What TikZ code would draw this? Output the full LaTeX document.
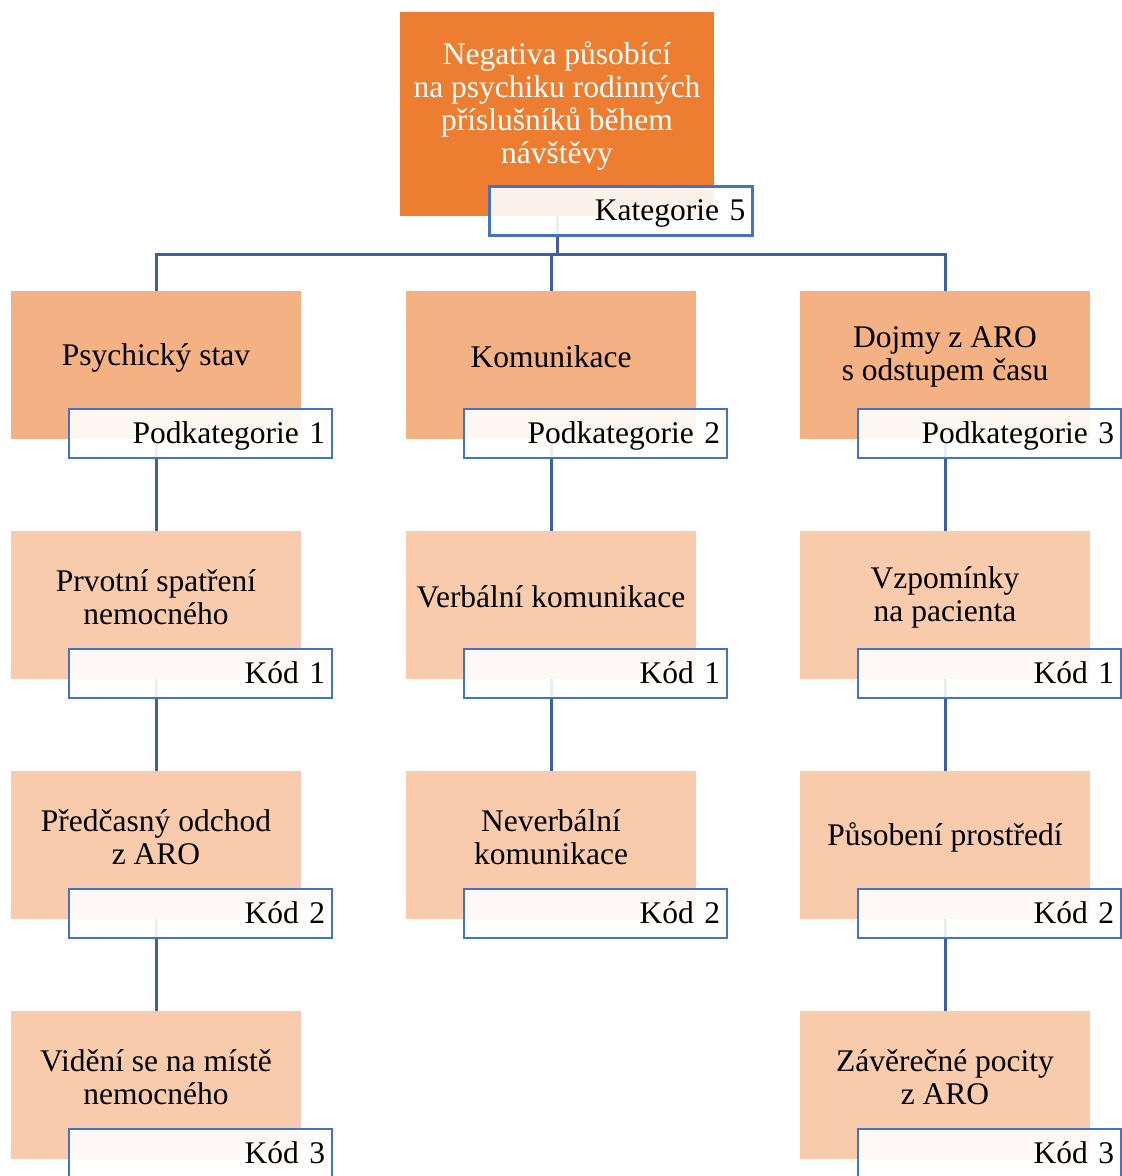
\documentclass[tikz,border=0pt]{standalone}
\usepackage{fontspec}
\setmainfont{Liberation Serif}
\newfontfamily\tnrfont{Liberation Serif}
\usetikzlibrary{calc}
\definecolor{topor}{HTML}{ED7D31}
\definecolor{midor}{HTML}{F4B183}
\definecolor{lightor}{HTML}{F8CBAD}
\definecolor{tagblue}{HTML}{4472C4}
\definecolor{treeblue}{RGB}{61,96,160}
\tikzset{
  boxbase/.style={inner sep=0pt, draw=none, align=center, text=black},
  topbox/.style={boxbase, fill=topor, minimum width=314pt, minimum height=204pt},
  lvlone/.style={boxbase, fill=midor, minimum width=290pt, minimum height=148pt},
  lvlrest/.style={boxbase, fill=lightor, minimum width=290pt, minimum height=148pt},
  tag/.style={draw=tagblue, line width=2.5pt, fill=white, fill opacity=0.9, text opacity=1,
    minimum width=263pt, minimum height=49pt, inner xsep=7pt, inner ysep=0pt,
    text width=249pt, align=right, anchor=north west, text height=26pt, text depth=7pt,
    font=\tnrfont\fontsize{31.5}{33}\selectfont},
  tree/.style={draw=treeblue, line width=3pt},
  boxtext/.style={align=center, inner sep=0pt, font=\tnrfont\fontsize{31.5}{33}\selectfont}
}
\begin{document}
\begin{tikzpicture}[x=1pt,y=-1pt]
\useasboundingbox (0,0) rectangle (1122,1176);
\clip (0,0) rectangle (1122,1176);
\coordinate (topc) at (557,114);
% ---- connectors (drawn first) ----
\coordinate (hub) at (557,254);
\coordinate (topbot) at (557,216);
\draw[tree] (topbot) -- (hub);
\draw[tree] (hub) -| (156,291) coordinate (c1top);
\draw[tree] (hub) -| (551,291) coordinate (c2top);
\draw[tree] (hub) -| (945,291) coordinate (c3top);
\foreach \x in {156,551,945}{
  \draw[tree] (\x,439) -- (\x,531);
  \draw[tree] (\x,679) -- (\x,771);
}
\draw[tree] (156,919) -- (156,1011);
\draw[tree] (945,919) -- (945,1011);
% ---- boxes ----
\node[topbox] (top) at (topc) {};
\node[boxtext, text=white] (toptext) at (557,106) {Negativa působící\\na psychiku rodinných\\příslušníků během\\návštěvy};
\node[tag] (toptag) at (488,185) {Kategorie 5};

% column 1
\node[lvlone] (a1) at (156,365) {};
\node[boxtext] (a1t) at (156,358) {Psychický stav};
\node[tag] (a1g) at ($(a1.north west)+(57,117)$) {Podkategorie 1};
\node[lvlrest] (a2) at (156,605) {};
\node[boxtext] (a2t) at (156,597) {Prvotní spatření\\nemocného};
\node[tag] (a2g) at ($(a2.north west)+(57,117)$) {Kód 1};
\node[lvlrest] (a3) at (156,845) {};
\node[boxtext] (a3t) at (156,837) {Předčasný odchod\\z ARO};
\node[tag] (a3g) at ($(a3.north west)+(57,117)$) {Kód 2};
\node[lvlrest] (a4) at (156,1085) {};
\node[boxtext] (a4t) at (156,1077) {Vidění se na místě\\nemocného};
\node[tag] (a4g) at ($(a4.north west)+(57,117)$) {Kód 3};

% column 2
\node[lvlone] (b1) at (551,365) {};
\node[boxtext] (b1t) at (551,357) {Komunikace};
\node[tag] (b1g) at ($(b1.north west)+(57,117)$) {Podkategorie 2};
\node[lvlrest] (b2) at (551,605) {};
\node[boxtext] (b2t) at (551,597) {Verbální komunikace};
\node[tag] (b2g) at ($(b2.north west)+(57,117)$) {Kód 1};
\node[lvlrest] (b3) at (551,845) {};
\node[boxtext] (b3t) at (551,837) {Neverbální\\komunikace};
\node[tag] (b3g) at ($(b3.north west)+(57,117)$) {Kód 2};

% column 3
\node[lvlone] (c1) at (945,365) {};
\node[boxtext] (c1t) at (945,357) {Dojmy z ARO\\s odstupem času};
\node[tag] (c1g) at ($(c1.north west)+(57,117)$) {Podkategorie 3};
\node[lvlrest] (c2) at (945,605) {};
\node[boxtext] (c2t) at (945,597) {Vzpomínky\\na pacienta};
\node[tag] (c2g) at ($(c2.north west)+(57,117)$) {Kód 1};
\node[lvlrest] (c3) at (945,845) {};
\node[boxtext] (c3t) at (945,837) {Působení prostředí};
\node[tag] (c3g) at ($(c3.north west)+(57,117)$) {Kód 2};
\node[lvlrest] (c4) at (945,1085) {};
\node[boxtext] (c4t) at (945,1077) {Závěrečné pocity\\z ARO};
\node[tag] (c4g) at ($(c4.north west)+(57,117)$) {Kód 3};
\end{tikzpicture}
\end{document}
